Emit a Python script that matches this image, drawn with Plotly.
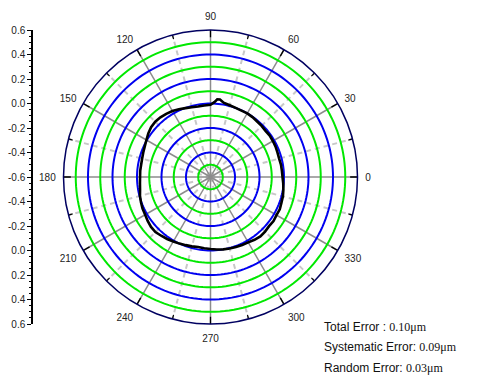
import plotly.graph_objects as go

# ---- data ----
theta_deg = [0, 5, 10, 15, 20, 25, 30, 35, 40, 45, 50, 55, 60, 65, 70, 75, 80, 83, 85, 87,
             90, 95, 100, 105, 110, 115, 120, 125, 130, 135, 140, 145, 150, 155, 160, 165,
             170, 175, 180, 185, 190, 195, 200, 205, 210, 215, 220, 225, 230, 235, 240, 245,
             250, 255, 260, 265, 270, 275, 280, 285, 290, 295, 300, 305, 310, 315, 320, 325,
             330, 335, 340, 345, 350, 355, 360]
profile = [-0.012, -0.015, -0.016, -0.020, -0.018, -0.014, -0.012, -0.010, -0.014, -0.010,
           -0.008, -0.003, 0.000, -0.002, 0.000, 0.006, 0.016, 0.038, 0.036, 0.012,
           -0.010, -0.014, -0.016, -0.010, -0.002, 0.010, 0.022, 0.030, 0.036, 0.038,
           0.033, 0.020, 0.004, -0.008, -0.016, -0.022, -0.025, -0.024, -0.025, -0.022,
           -0.016, -0.004, 0.004, 0.012, 0.016, 0.026, 0.034, 0.036, 0.026, 0.018,
           0.008, 0.000, -0.008, -0.014, -0.020, -0.016, -0.012, -0.006, 0.000, 0.004,
           0.008, 0.012, 0.016, 0.026, 0.033, 0.030, 0.024, 0.028, 0.022, 0.024,
           0.016, 0.012, 0.004, -0.004, -0.012]

ring_levels = [-0.5, -0.4, -0.3, -0.2, -0.1, 0.0, 0.1, 0.2, 0.3, 0.4, 0.5]
ring_colors = ["#00E800", "#0000F0", "#00E800", "#0000F0", "#00E800", "#0000F0",
               "#00E800", "#0000F0", "#00E800", "#0000F0", "#00E800"]
major_spokes = [0, 30, 60, 90, 120, 150, 180, 210, 240, 270, 300, 330]
minor_spokes = [15, 45, 75, 105, 135, 165, 195, 225, 255, 285, 315, 345]
angle_ticks = list(range(0, 360, 15))
angle_labels = [str(a) if a % 30 == 0 else "" for a in angle_ticks]
r_min, r_max = -0.6, 0.6
major_tick_r = [0.54, 0.6]
minor_tick_r = [0.565, 0.6]
left_tickvals = [-1.2, -1.0, -0.8, -0.6, -0.4, -0.2, 0.0, 0.2, 0.4, 0.6, 0.8, 1.0, 1.2]
left_ticktext = ["0.6", "0.4", "0.2", "0.0", "-0.2", "-0.4", "-0.6",
                 "-0.4", "-0.2", "0.0", "0.2", "0.4", "0.6"]
circle_theta = list(range(0, 361, 2))

W, H = 493, 378
cx, cy, R = 210.5, 177.0, 147.0

fig = go.Figure()

# spokes
for a in minor_spokes:
    fig.add_trace(go.Scatterpolar(r=[r_min, r_max], theta=[a, a], mode="lines",
                                  line=dict(color="#C8C8C8", width=2, dash="5px,4px"),
                                  hoverinfo="skip", showlegend=False))
for a in major_spokes:
    fig.add_trace(go.Scatterpolar(r=[r_min, r_max], theta=[a, a], mode="lines",
                                  line=dict(color="#8C8C8C", width=1.5),
                                  hoverinfo="skip", showlegend=False))
# rings
for lv, col in zip(ring_levels, ring_colors):
    fig.add_trace(go.Scatterpolar(r=[lv] * len(circle_theta), theta=circle_theta, mode="lines",
                                  line=dict(color=col, width=2),
                                  hoverinfo="skip", showlegend=False))
# inner angular ticks
for a in major_spokes:
    fig.add_trace(go.Scatterpolar(r=major_tick_r, theta=[a, a], mode="lines",
                                  line=dict(color="black", width=1.3),
                                  hoverinfo="skip", showlegend=False))
for a in minor_spokes:
    fig.add_trace(go.Scatterpolar(r=minor_tick_r, theta=[a, a], mode="lines",
                                  line=dict(color="black", width=1.2),
                                  hoverinfo="skip", showlegend=False))
# measured profile
fig.add_trace(go.Scatterpolar(r=profile, theta=theta_deg, mode="lines",
                              line=dict(color="black", width=2.6),
                              showlegend=False))

# dummy for left axis
fig.add_trace(go.Scatter(x=[0.5], y=[0], mode="markers", marker=dict(opacity=0),
                         hoverinfo="skip", showlegend=False, xaxis="x", yaxis="y"))

xd0, xd1 = (cx - R) / W, (cx + R) / W
yd0, yd1 = 1 - (cy + R) / H, 1 - (cy - R) / H

fig.update_layout(
    width=W, height=H,
    margin=dict(l=0, r=0, t=0, b=0, pad=0, autoexpand=False),
    paper_bgcolor="white", plot_bgcolor="rgba(0,0,0,0)",
    font=dict(family="Liberation Sans, Arial, sans-serif", size=10, color="#222"),
    polar=dict(
        domain=dict(x=[xd0, xd1], y=[yd0, yd1]),
        bgcolor="white",
        radialaxis=dict(range=[r_min, r_max], showgrid=False, showticklabels=False,
                        showline=False, ticks=""),
        angularaxis=dict(direction="counterclockwise", rotation=0,
                         tickmode="array", tickvals=angle_ticks, ticktext=angle_labels,
                         showgrid=False, showline=True, linecolor="#000060", linewidth=1.5,
                         ticks="outside", ticklen=5, tickcolor="rgba(0,0,0,0)",
                         tickfont=dict(size=10, color="#222")),
    ),
    xaxis=dict(domain=[33 / W, 40 / W], visible=False, range=[0, 1], automargin=False),
    yaxis=dict(domain=[yd0, yd1], range=[-1.2, 1.2], tickmode="array",
               tickvals=left_tickvals, ticktext=left_ticktext, automargin=False,
               showline=True, linecolor="black", linewidth=1.5,
               ticks="outside", ticklen=4, tickcolor="black", tickwidth=1.2,
               showgrid=False, zeroline=False, anchor="x",
               tickfont=dict(size=10, color="#222"),
               minor=dict(dtick=0.05, tick0=0, ticks="outside", ticklen=2,
                          tickcolor="black", showgrid=False)),
)

serif = "font-family:Liberation Serif,serif"
lines = [("Total Error : ", "0.10\u03bcm", 327),
         ("Systematic Error: ", "0.09\u03bcm", 347),
         ("Random Error: ", "0.03\u03bcm", 368)]
for lab, val, yy in lines:
    fig.add_annotation(xref="paper", yref="paper", x=322 / W, y=1 - yy / H,
                       xanchor="left", yanchor="middle", showarrow=False,
                       text=f"{lab}<span style=\"{serif}\">{val}</span>",
                       font=dict(size=12, color="#111"))

fig.write_html("out.html", config={"displayModeBar": False},
               post_script="document.body.style.margin='0';document.body.style.padding='0';"
                           "document.body.style.overflow='hidden';")
